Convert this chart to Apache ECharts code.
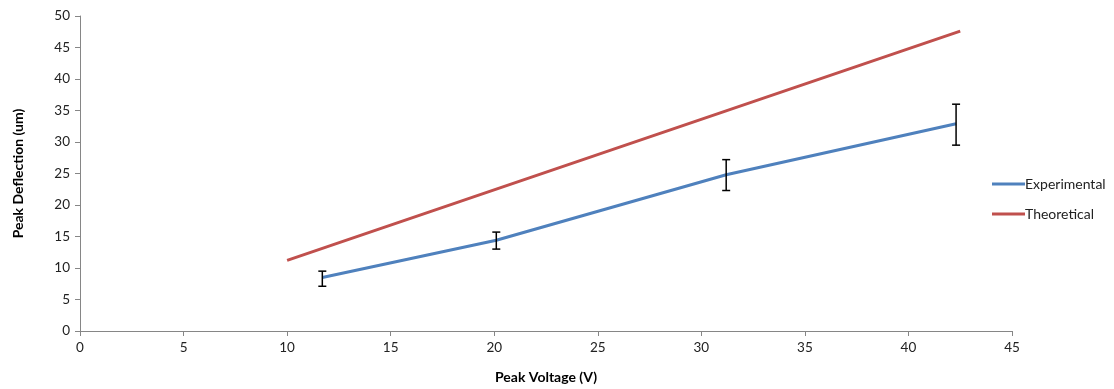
<!DOCTYPE html>
<html>
<head>
<meta charset="utf-8">
<script src="https://cdn.jsdelivr.net/npm/echarts@6/dist/echarts.min.js"></script>
<style>
  html, body { margin: 0; padding: 0; background: #fff; }
  #main { width: 1114px; height: 389px; }
</style>
</head>
<body>
<div id="main"></div>
<script>
// values
var expVoltage = [11.7, 20.1, 31.2, 42.3];
var expDeflection = [8.5, 14.4, 24.8, 32.9];
var expLow = [7.1, 13.0, 22.3, 29.5];
var expHigh = [9.5, 15.7, 27.2, 36.0];

var theoVoltage = [10, 42.5];
var theoDeflection = [11.2, 47.6];

var font = 'Lato';

var expData = expVoltage.map(function (v, i) { return [v, expDeflection[i]]; });
var theoData = theoVoltage.map(function (v, i) { return [v, theoDeflection[i]]; });
var errData = expVoltage.map(function (v, i) { return [v, expLow[i], expHigh[i]]; });

var myChart = echarts.init(document.getElementById('main'));

var option = {
  animation: false,
  textStyle: { fontFamily: font },
  grid: { left: 80, right: 102, top: 16, bottom: 56 },
  legend: {
    orient: 'vertical',
    left: 987,
    top: 172,
    itemWidth: 33,
    itemHeight: 3,
    itemGap: 16,
    icon: 'rect',
    textStyle: { fontFamily: font, fontSize: 14, color: '#222', padding: [0, 0, 0, -5] },
    data: ['Experimental', 'Theoretical']
  },
  xAxis: {
    type: 'value',
    min: 0,
    max: 45,
    interval: 5,
    name: 'Peak Voltage (V)',
    nameLocation: 'middle',
    nameGap: 39,
    nameTextStyle: { fontFamily: font, fontWeight: 'bold', fontSize: 14, color: '#000' },
    axisLine: { show: true, lineStyle: { color: '#868686', width: 1 } },
    axisTick: { show: true, length: 5, lineStyle: { color: '#868686' } },
    axisLabel: { fontSize: 13.5, color: '#222', margin: 10 },
    splitLine: { show: false }
  },
  yAxis: {
    type: 'value',
    min: 0,
    max: 50,
    interval: 5,
    name: 'Peak Deflection (um)',
    nameLocation: 'middle',
    nameGap: 55,
    nameTextStyle: { fontFamily: font, fontWeight: 'bold', fontSize: 14, color: '#000' },
    axisLine: { show: true, lineStyle: { color: '#868686', width: 1 } },
    axisTick: { show: true, length: 5, lineStyle: { color: '#868686' } },
    axisLabel: { fontSize: 13.5, color: '#222', margin: 10 },
    splitLine: { show: false }
  },
  series: [
    {
      name: 'Experimental',
      type: 'line',
      data: expData,
      showSymbol: false,
      color: '#4F81BD',
      lineStyle: { width: 3, color: '#4F81BD' },
      z: 2
    },
    {
      name: 'Theoretical',
      type: 'line',
      data: theoData,
      showSymbol: false,
      color: '#C0504D',
      lineStyle: { width: 3, color: '#C0504D' },
      z: 2
    },
    {
      name: 'error',
      type: 'custom',
      data: errData,
      z: 3,
      renderItem: function (params, api) {
        var x = api.value(0);
        var lo = api.coord([x, api.value(1)]);
        var hi = api.coord([x, api.value(2)]);
        var half = 4;
        var style = { stroke: '#000', lineWidth: 1.5 };
        return {
          type: 'group',
          children: [
            { type: 'line', shape: { x1: lo[0], y1: lo[1], x2: hi[0], y2: hi[1] }, style: style },
            { type: 'line', shape: { x1: lo[0] - half, y1: lo[1], x2: lo[0] + half, y2: lo[1] }, style: style },
            { type: 'line', shape: { x1: hi[0] - half, y1: hi[1], x2: hi[0] + half, y2: hi[1] }, style: style }
          ]
        };
      }
    }
  ]
};

myChart.setOption(option);
</script>
</body>
</html>
